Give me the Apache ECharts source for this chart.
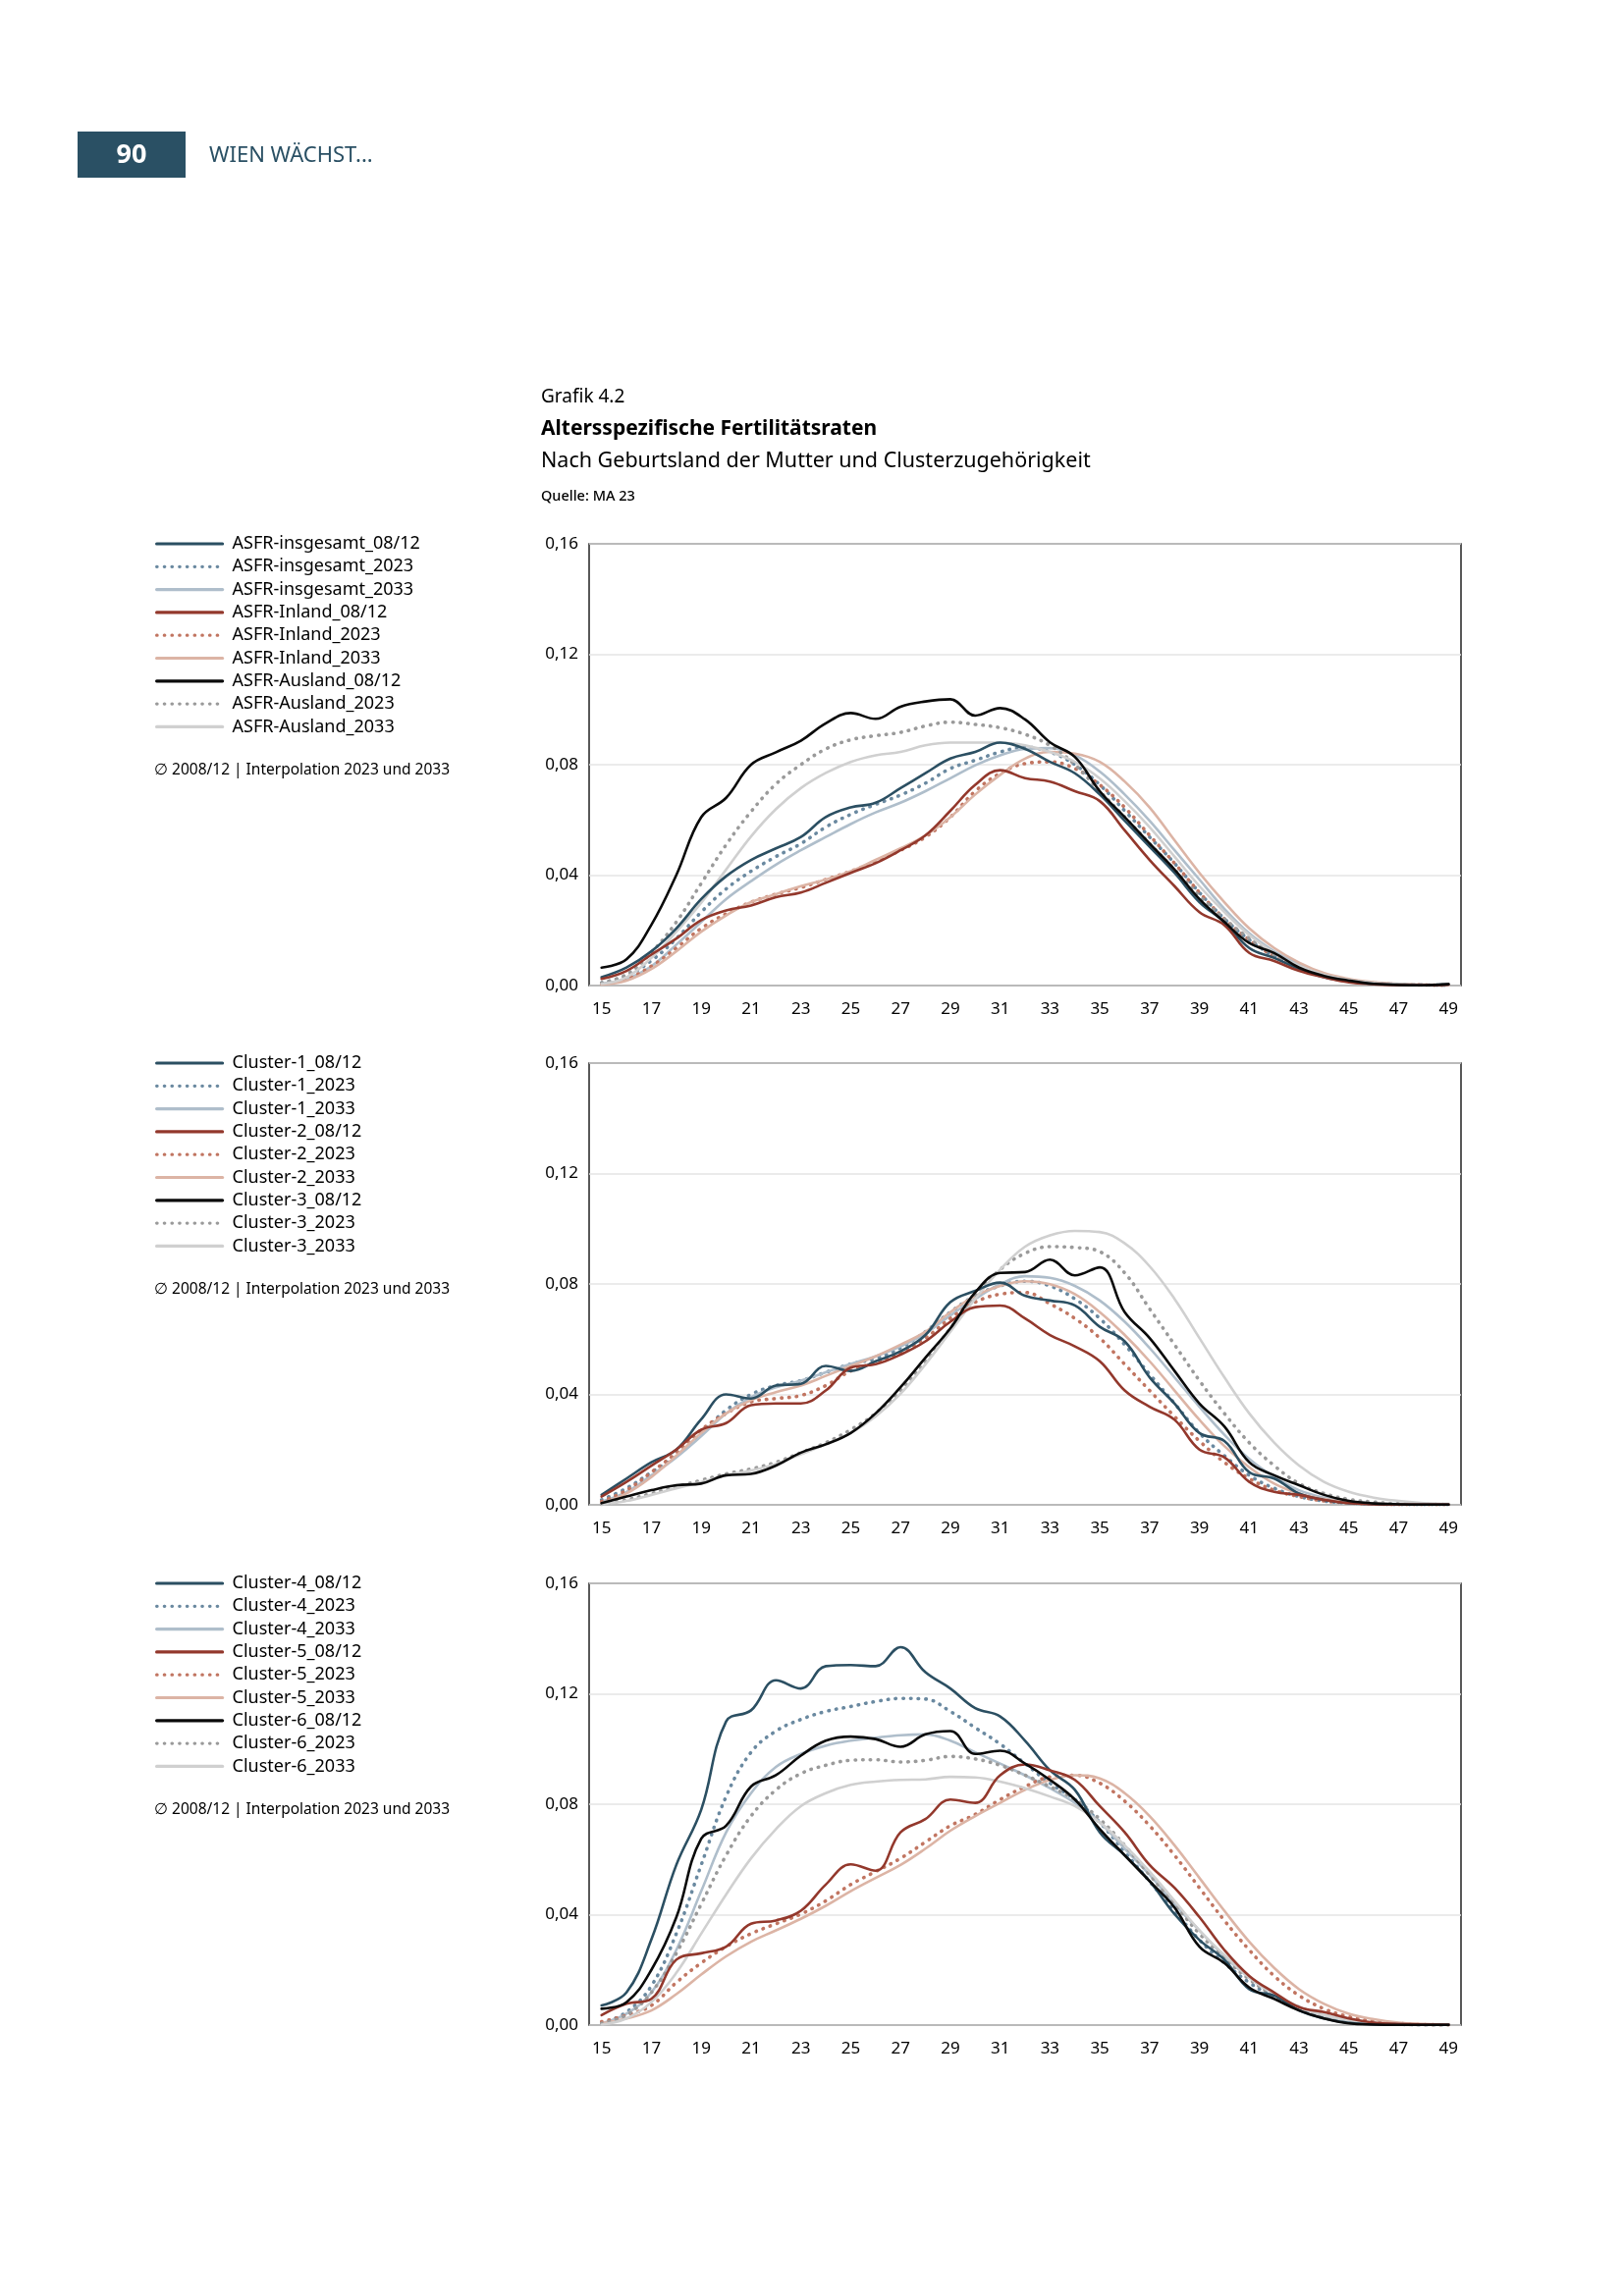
<!DOCTYPE html>
<html>
<head>
<meta charset="utf-8">
<script src="https://cdn.jsdelivr.net/npm/echarts@6/dist/echarts.min.js"></script>
<style>
html,body{margin:0;padding:0;background:#fff;}
#c{width:1654px;height:2339px;}
</style>
</head>
<body>
<div id="c"></div>
<script>
// ---------- data ----------
const ages = ['15','16','17','18','19','20','21','22','23','24','25','26','27','28','29','30','31','32','33','34','35','36','37','38','39','40','41','42','43','44','45','46','47','48','49'];
const yTicks = [0, 0.04, 0.08, 0.12, 0.16];

// Chart 1
const insg0812 = [0.0030,0.0065,0.0124,0.0207,0.0313,0.0396,0.0455,0.0497,0.0538,0.0610,0.0645,0.0662,0.0715,0.0769,0.0822,0.0846,0.0880,0.0857,0.0810,0.0769,0.0692,0.0597,0.0503,0.0408,0.0302,0.0230,0.0136,0.0100,0.0060,0.0030,0.0014,0.0006,0.0003,0.0002,0.0005];
const insg2023 = [0.0010,0.0035,0.0090,0.0170,0.0266,0.0350,0.0414,0.0467,0.0514,0.0574,0.0620,0.0656,0.0690,0.0733,0.0786,0.0816,0.0846,0.0863,0.0846,0.0800,0.0727,0.0633,0.0538,0.0443,0.0337,0.0242,0.0166,0.0106,0.0065,0.0035,0.0018,0.0009,0.0004,0.0002,0.0001];
const insg2033 = [0.0008,0.0024,0.0070,0.0148,0.0230,0.0313,0.0378,0.0438,0.0490,0.0538,0.0585,0.0627,0.0662,0.0704,0.0751,0.0798,0.0834,0.0857,0.0860,0.0834,0.0775,0.0692,0.0597,0.0490,0.0384,0.0278,0.0189,0.0124,0.0077,0.0041,0.0021,0.0010,0.0005,0.0002,0.0001];
const inl0812 = [0.0024,0.0053,0.0112,0.0170,0.0237,0.0272,0.0290,0.0320,0.0337,0.0372,0.0408,0.0443,0.0490,0.0544,0.0633,0.0727,0.0780,0.0751,0.0739,0.0704,0.0668,0.0562,0.0455,0.0360,0.0266,0.0219,0.0118,0.0089,0.0053,0.0030,0.0012,0.0005,0.0002,0.0001,0.0003];
const inl2023 = [0.0006,0.0024,0.0070,0.0136,0.0207,0.0260,0.0302,0.0331,0.0355,0.0384,0.0414,0.0449,0.0490,0.0538,0.0610,0.0704,0.0769,0.0804,0.0810,0.0786,0.0727,0.0645,0.0544,0.0443,0.0337,0.0242,0.0166,0.0106,0.0065,0.0035,0.0018,0.0009,0.0004,0.0002,0.0001];
const inl2033 = [0.0004,0.0018,0.0060,0.0124,0.0195,0.0254,0.0302,0.0331,0.0360,0.0384,0.0414,0.0455,0.0497,0.0544,0.0610,0.0692,0.0763,0.0822,0.0846,0.0840,0.0810,0.0739,0.0645,0.0526,0.0408,0.0302,0.0207,0.0136,0.0083,0.0045,0.0024,0.0012,0.0006,0.0003,0.0001];
const ausl0812 = [0.0065,0.0095,0.0220,0.0400,0.0610,0.0680,0.0800,0.0845,0.0887,0.0950,0.0987,0.0966,0.1010,0.1029,0.1037,0.0978,0.1005,0.0964,0.0881,0.0828,0.0704,0.0610,0.0514,0.0420,0.0313,0.0230,0.0154,0.0118,0.0065,0.0035,0.0018,0.0006,0.0002,0.0001,0.0005];
const ausl2023 = [0.0010,0.0040,0.0120,0.0230,0.0370,0.0510,0.0630,0.0730,0.0800,0.0857,0.0890,0.0905,0.0917,0.0940,0.0954,0.0946,0.0934,0.0910,0.0870,0.0800,0.0704,0.0610,0.0514,0.0420,0.0325,0.0242,0.0171,0.0112,0.0065,0.0035,0.0018,0.0008,0.0004,0.0002,0.0001];
const ausl2033 = [0.0006,0.0030,0.0100,0.0195,0.0300,0.0420,0.0540,0.0639,0.0715,0.0770,0.0810,0.0834,0.0846,0.0870,0.0880,0.0880,0.0880,0.0870,0.0846,0.0810,0.0750,0.0668,0.0574,0.0467,0.0360,0.0266,0.0183,0.0118,0.0071,0.0039,0.0020,0.0010,0.0005,0.0002,0.0001];

// Chart 2
const c1_0812 = [0.0036,0.0095,0.0154,0.0200,0.0310,0.0400,0.0385,0.0432,0.0438,0.0503,0.0485,0.0520,0.0556,0.0615,0.0734,0.0775,0.0805,0.0757,0.0740,0.0722,0.0645,0.0592,0.0462,0.0367,0.0260,0.0231,0.0118,0.0095,0.0041,0.0018,0.0006,0.0003,0.0001,0.0001,0.0001];
const c1_2023 = [0.0018,0.0060,0.0118,0.0178,0.0260,0.0343,0.0400,0.0432,0.0450,0.0480,0.0510,0.0530,0.0568,0.0627,0.0698,0.0757,0.0793,0.0810,0.0793,0.0746,0.0675,0.0580,0.0473,0.0367,0.0260,0.0178,0.0107,0.0060,0.0030,0.0014,0.0007,0.0003,0.0001,0.0001,0.0001];
const c1_2033 = [0.0012,0.0047,0.0107,0.0172,0.0249,0.0331,0.0390,0.0426,0.0450,0.0480,0.0510,0.0538,0.0574,0.0621,0.0686,0.0746,0.0799,0.0828,0.0822,0.0793,0.0740,0.0663,0.0568,0.0462,0.0355,0.0254,0.0166,0.0101,0.0053,0.0026,0.0012,0.0006,0.0003,0.0001,0.0001];
const c2_0812 = [0.0030,0.0083,0.0142,0.0200,0.0272,0.0296,0.0361,0.0367,0.0367,0.0414,0.0497,0.0509,0.0544,0.0592,0.0663,0.0716,0.0722,0.0675,0.0615,0.0574,0.0520,0.0414,0.0355,0.0308,0.0200,0.0172,0.0083,0.0047,0.0036,0.0018,0.0006,0.0002,0.0001,0.0001,0.0001];
const c2_2023 = [0.0012,0.0053,0.0118,0.0189,0.0272,0.0331,0.0373,0.0385,0.0396,0.0432,0.0485,0.0515,0.0550,0.0604,0.0675,0.0734,0.0763,0.0769,0.0728,0.0675,0.0604,0.0509,0.0414,0.0320,0.0231,0.0154,0.0095,0.0053,0.0030,0.0014,0.0007,0.0003,0.0001,0.0001,0.0001];
const c2_2033 = [0.0006,0.0041,0.0101,0.0178,0.0260,0.0331,0.0379,0.0408,0.0432,0.0467,0.0503,0.0538,0.0580,0.0627,0.0698,0.0757,0.0793,0.0810,0.0799,0.0763,0.0698,0.0615,0.0520,0.0414,0.0308,0.0213,0.0136,0.0077,0.0041,0.0021,0.0010,0.0005,0.0002,0.0001,0.0001];
const c3_0812 = [0.0006,0.0030,0.0053,0.0071,0.0077,0.0107,0.0112,0.0142,0.0189,0.0219,0.0260,0.0331,0.0426,0.0533,0.0639,0.0769,0.0840,0.0843,0.0888,0.0831,0.0860,0.0698,0.0604,0.0485,0.0367,0.0284,0.0154,0.0107,0.0071,0.0036,0.0014,0.0005,0.0002,0.0001,0.0001];
const c3_2023 = [0.0002,0.0018,0.0041,0.0065,0.0089,0.0112,0.0130,0.0154,0.0189,0.0225,0.0272,0.0331,0.0414,0.0520,0.0639,0.0757,0.0852,0.0911,0.0935,0.0932,0.0917,0.0840,0.0710,0.0580,0.0450,0.0331,0.0225,0.0142,0.0077,0.0041,0.0020,0.0010,0.0004,0.0002,0.0001];
const c3_2033 = [0.0002,0.0014,0.0036,0.0060,0.0083,0.0107,0.0124,0.0148,0.0183,0.0219,0.0260,0.0320,0.0402,0.0509,0.0627,0.0746,0.0852,0.0935,0.0976,0.0992,0.0988,0.0947,0.0864,0.0746,0.0604,0.0462,0.0331,0.0225,0.0142,0.0083,0.0047,0.0026,0.0014,0.0006,0.0003];

// Chart 3
const c4_0812 = [0.0071,0.0118,0.0310,0.0580,0.0780,0.1100,0.1140,0.1249,0.1219,0.1300,0.1304,0.1300,0.1369,0.1278,0.1219,0.1148,0.1118,0.1030,0.0923,0.0852,0.0698,0.0615,0.0521,0.0402,0.0308,0.0237,0.0130,0.0107,0.0053,0.0024,0.0008,0.0003,0.0001,0.0001,0.0001];
const c4_2023 = [0.0006,0.0047,0.0142,0.0331,0.0580,0.0828,0.0988,0.1065,0.1107,0.1136,0.1154,0.1172,0.1183,0.1181,0.1136,0.1077,0.1018,0.0947,0.0876,0.0817,0.0734,0.0627,0.0520,0.0414,0.0308,0.0225,0.0154,0.0101,0.0059,0.0033,0.0015,0.0007,0.0003,0.0001,0.0001];
const c4_2033 = [0.0006,0.0041,0.0118,0.0272,0.0485,0.0698,0.0840,0.0935,0.0982,0.1012,0.1030,0.1041,0.1050,0.1053,0.1030,0.0988,0.0947,0.0905,0.0858,0.0805,0.0734,0.0639,0.0544,0.0438,0.0343,0.0249,0.0172,0.0112,0.0065,0.0036,0.0018,0.0007,0.0003,0.0001,0.0001];
const c5_0812 = [0.0036,0.0077,0.0095,0.0237,0.0260,0.0284,0.0367,0.0379,0.0414,0.0509,0.0582,0.0559,0.0698,0.0746,0.0817,0.0805,0.0905,0.0944,0.0923,0.0888,0.0793,0.0698,0.0580,0.0497,0.0391,0.0272,0.0178,0.0118,0.0065,0.0047,0.0024,0.0009,0.0004,0.0002,0.0001];
const c5_2023 = [0.0012,0.0036,0.0071,0.0154,0.0225,0.0284,0.0331,0.0367,0.0402,0.0450,0.0509,0.0556,0.0604,0.0663,0.0722,0.0763,0.0817,0.0864,0.0899,0.0905,0.0876,0.0811,0.0722,0.0615,0.0497,0.0379,0.0272,0.0178,0.0107,0.0059,0.0030,0.0014,0.0006,0.0002,0.0001];
const c5_2033 = [0.0006,0.0024,0.0053,0.0112,0.0183,0.0249,0.0302,0.0343,0.0385,0.0432,0.0485,0.0533,0.0580,0.0639,0.0704,0.0757,0.0805,0.0852,0.0888,0.0905,0.0893,0.0840,0.0757,0.0651,0.0533,0.0414,0.0302,0.0207,0.0130,0.0077,0.0041,0.0021,0.0009,0.0004,0.0001];
const c6_0812 = [0.0059,0.0083,0.0200,0.0390,0.0675,0.0722,0.0864,0.0905,0.0976,0.1030,0.1045,0.1036,0.1008,0.1053,0.1065,0.0982,0.0994,0.0947,0.0888,0.0817,0.0710,0.0615,0.0521,0.0426,0.0284,0.0225,0.0136,0.0095,0.0053,0.0024,0.0006,0.0002,0.0001,0.0001,0.0001];
const c6_2023 = [0.0006,0.0036,0.0118,0.0260,0.0438,0.0615,0.0757,0.0852,0.0911,0.0941,0.0959,0.0961,0.0953,0.0959,0.0973,0.0964,0.0941,0.0905,0.0864,0.0817,0.0746,0.0651,0.0544,0.0438,0.0331,0.0243,0.0166,0.0107,0.0065,0.0036,0.0018,0.0008,0.0003,0.0001,0.0001];
const c6_2033 = [0.0002,0.0024,0.0083,0.0189,0.0331,0.0473,0.0604,0.0710,0.0793,0.0840,0.0870,0.0882,0.0888,0.0890,0.0899,0.0897,0.0882,0.0858,0.0828,0.0793,0.0734,0.0651,0.0556,0.0450,0.0343,0.0254,0.0172,0.0112,0.0065,0.0036,0.0018,0.0008,0.0004,0.0001,0.0001];

const panels = [
  { names: ['ASFR-insgesamt_08/12','ASFR-insgesamt_2023','ASFR-insgesamt_2033','ASFR-Inland_08/12','ASFR-Inland_2023','ASFR-Inland_2033','ASFR-Ausland_08/12','ASFR-Ausland_2023','ASFR-Ausland_2033'],
    data: [insg0812, insg2023, insg2033, inl0812, inl2023, inl2033, ausl0812, ausl2023, ausl2033] },
  { names: ['Cluster-1_08/12','Cluster-1_2023','Cluster-1_2033','Cluster-2_08/12','Cluster-2_2023','Cluster-2_2033','Cluster-3_08/12','Cluster-3_2023','Cluster-3_2033'],
    data: [c1_0812, c1_2023, c1_2033, c2_0812, c2_2023, c2_2033, c3_0812, c3_2023, c3_2033] },
  { names: ['Cluster-4_08/12','Cluster-4_2023','Cluster-4_2033','Cluster-5_08/12','Cluster-5_2023','Cluster-5_2033','Cluster-6_08/12','Cluster-6_2023','Cluster-6_2033'],
    data: [c4_0812, c4_2023, c4_2033, c5_0812, c5_2023, c5_2033, c6_0812, c6_2023, c6_2033] }
];

// ---------- styles ----------
const styles = [
  { color: '#2b4f62', width: 2.6, type: 'solid' },
  { color: '#6a89a0', width: 3.6, type: [0.5, 7.2] },
  { color: '#afbecb', width: 2.6, type: 'solid' },
  { color: '#93382c', width: 2.6, type: 'solid' },
  { color: '#c17561', width: 3.6, type: [0.5, 7.2] },
  { color: '#dcb4a5', width: 2.6, type: 'solid' },
  { color: '#0a0a0a', width: 2.6, type: 'solid' },
  { color: '#9a9a9a', width: 3.6, type: [0.5, 7.2] },
  { color: '#d0d0d0', width: 2.6, type: 'solid' }
];
const FONT = 'Noto Sans';
const gridTops = [554, 1083, 1613];
const GRID_LEFT = 600, GRID_W = 888, GRID_H = 450;

const grids = [], xAxes = [], yAxes = [], legends = [], series = [], graphics = [];

panels.forEach((p, i) => {
  grids.push({ left: GRID_LEFT, top: gridTops[i], width: GRID_W, height: GRID_H,
    show: true, borderColor: '#000', borderWidth: 1.3, backgroundColor: 'transparent', z: 0 });
  xAxes.push({ type: 'category', gridIndex: i, data: ages, boundaryGap: true,
    axisLine: { show: false }, axisTick: { show: false },
    axisLabel: { interval: 1, margin: 16, fontFamily: FONT, fontSize: 17, color: '#000' } });
  yAxes.push({ type: 'value', gridIndex: i, min: yTicks[0], max: yTicks[yTicks.length - 1], interval: 0.04,
    axisLine: { show: false }, axisTick: { show: false },
    splitLine: { show: true, lineStyle: { color: '#e4e4e4', width: 1.5 } },
    axisLabel: { margin: 11, fontFamily: FONT, fontSize: 17, color: '#000',
      formatter: v => v.toFixed(2).replace('.', ',') } });
  legends.push({ orient: 'vertical', left: 153, top: gridTops[i] - 14,
    itemWidth: 67, itemHeight: 14, itemGap: 5.3, selectedMode: false,
    itemStyle: { opacity: 0, borderWidth: 0 },
    lineStyle: { width: 3.2, cap: 'round' },
    textStyle: { fontFamily: FONT, fontSize: 18, lineHeight: 18, color: '#000', padding: [0, 0, 0, 5] },
    data: p.names });
  p.names.forEach((n, k) => {
    const s = styles[k];
    series.push({ name: n, type: 'line', xAxisIndex: i, yAxisIndex: i, data: p.data[k],
      smooth: 0.4, symbol: 'none', showSymbol: false, animation: false,
      z: 2 + (k % 3 === 0 ? 2 : 0),
      lineStyle: { color: s.color, width: s.width, type: s.type, cap: 'round', join: 'round' },
      itemStyle: { color: s.color } });
  });
  graphics.push({ type: 'text', left: 157, top: gridTops[i] + 223,
    style: { text: '∅ 2008/12 | Interpolation 2023 und 2033', font: '15.5px "Noto Sans"', fill: '#000' } });
});

// header + titles
graphics.push(
  { type: 'rect', shape: { x: 79, y: 134, width: 110, height: 47 }, style: { fill: '#2a5064' } },
  { type: 'text', x: 134, y: 158, style: { text: '90', font: 'bold 27px "Noto Sans"', fill: '#fff', textAlign: 'center', textVerticalAlign: 'middle' } },
  { type: 'text', x: 213, y: 159, style: { text: 'WIEN WÄCHST...', font: '22px "Noto Sans"', fill: '#2a5064', textVerticalAlign: 'middle' } },
  { type: 'text', x: 551, y: 405, style: { text: 'Grafik 4.2', font: '19px "Noto Sans"', fill: '#000', textVerticalAlign: 'middle' } },
  { type: 'text', x: 551, y: 437, style: { text: 'Altersspezifische Fertilitätsraten', font: 'bold 21px "Noto Sans"', fill: '#000', textVerticalAlign: 'middle' } },
  { type: 'text', x: 551, y: 470, style: { text: 'Nach Geburtsland der Mutter und Clusterzugehörigkeit', font: '21.5px "Noto Sans"', fill: '#000', textVerticalAlign: 'middle' } },
  { type: 'text', x: 551, y: 506, style: { text: 'Quelle: MA 23', font: '500 14.5px "Noto Sans"', fill: '#000', textVerticalAlign: 'middle' } }
);

const chart = echarts.init(document.getElementById('c'), null, { renderer: 'canvas' });
chart.setOption({
  animation: false,
  backgroundColor: '#fff',
  grid: grids, xAxis: xAxes, yAxis: yAxes, legend: legends, series: series, graphic: graphics
});
</script>
</body>
</html>
